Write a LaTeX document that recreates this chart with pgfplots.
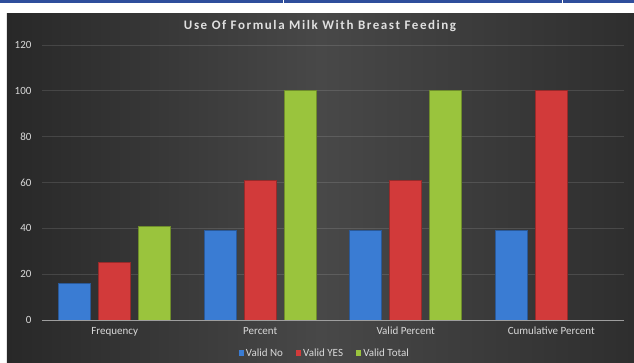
\documentclass[border=0pt]{standalone}
\usepackage{fontspec}
\setmainfont{Carlito}
\newfontfamily\titlefont[LetterSpace=12]{Carlito}
\usepackage{pgfplots}
\pgfplotsset{compat=1.18}

\definecolor{stripblue}{HTML}{2F4E9C}
\definecolor{bgleft}{HTML}{282828}
\definecolor{bgmid}{HTML}{484848}
\definecolor{bgright}{HTML}{2E2E2E}
\definecolor{txtgray}{HTML}{D9D9D9}
\definecolor{barblue}{HTML}{3A7CD3}
\definecolor{barred}{HTML}{D23A3A}
\definecolor{bargreen}{HTML}{9AC43D}

\begin{document}
\begin{tikzpicture}
% page frame: white margin, thin blue rule at the top, dark chart panel
\path[use as bounding box] (-42pt,-43pt) rectangle (592pt,320pt);
\fill[white] (-42pt,-43pt) rectangle (592pt,320pt);
\fill[stripblue] (-42pt,317pt) rectangle (592pt,320pt);
\fill[white] (241pt,317pt) rectangle (242pt,320pt);
\fill[white] (519.5pt,317pt) rectangle (520.5pt,320pt);
\shade[left color=bgleft, right color=bgright, middle color=bgmid]
  (-35pt,-43pt) rectangle (592pt,306pt);

\begin{axis}[
  at={(0pt,0pt)}, anchor=south west,
  scale only axis,
  width=582pt, height=275pt,
  xmin=-0.5, xmax=3.5,
  ymin=0, ymax=120,
  xtick={0,1,2,3},
  xticklabels={Frequency, Percent, Valid Percent, Cumulative Percent},
  ytick={0,20,...,120},
  major tick length=0pt,
  ymajorgrids,
  grid style={white, opacity=0.12, line width=0.8pt},
  axis x line*=bottom,
  axis y line*=left,
  y axis line style={draw=none},
  x axis line style={color=white!62!black, line width=0.9pt, -},
  tick label style={text=txtgray, font=\fontsize{11}{13}\selectfont},
  /pgf/number format/assume math mode=true,
  xticklabel style={yshift=-3.5pt},
  yticklabel style={xshift=-7pt},
  ybar=8pt,
  bar width=32pt,
  title={\titlefont\bfseries Use Of Formula Milk With Breast Feeding},
  title style={at={(0.4777,1.047)}, anchor=center, yshift=0pt,
    text=white!88!black, font=\fontsize{13}{15}\selectfont},
  legend columns=3,
  legend style={at={(0.486,-0.12)}, anchor=center, draw=none, fill=none,
    text=txtgray, font=\fontsize{11}{13}\selectfont,
    /tikz/every even column/.append style={column sep=11pt}},
  legend image code/.code={\path[#1, draw=none] (0pt,-2.6pt) rectangle (5.2pt,2.6pt);},
]
\addplot[fill=barblue, draw=barblue!72!black, line width=0.7pt]
  coordinates {(0,16) (1,39.0) (2,39.0) (3,39.0)};
\addplot[fill=barred, draw=barred!72!black, line width=0.7pt]
  coordinates {(0,25) (1,61.0) (2,61.0) (3,100.0)};
\addplot[fill=bargreen, draw=bargreen!72!black, line width=0.7pt]
  coordinates {(0,41) (1,100.0) (2,100.0)};
\legend{Valid No, Valid YES, Valid Total}
\end{axis}
\end{tikzpicture}
\end{document}
